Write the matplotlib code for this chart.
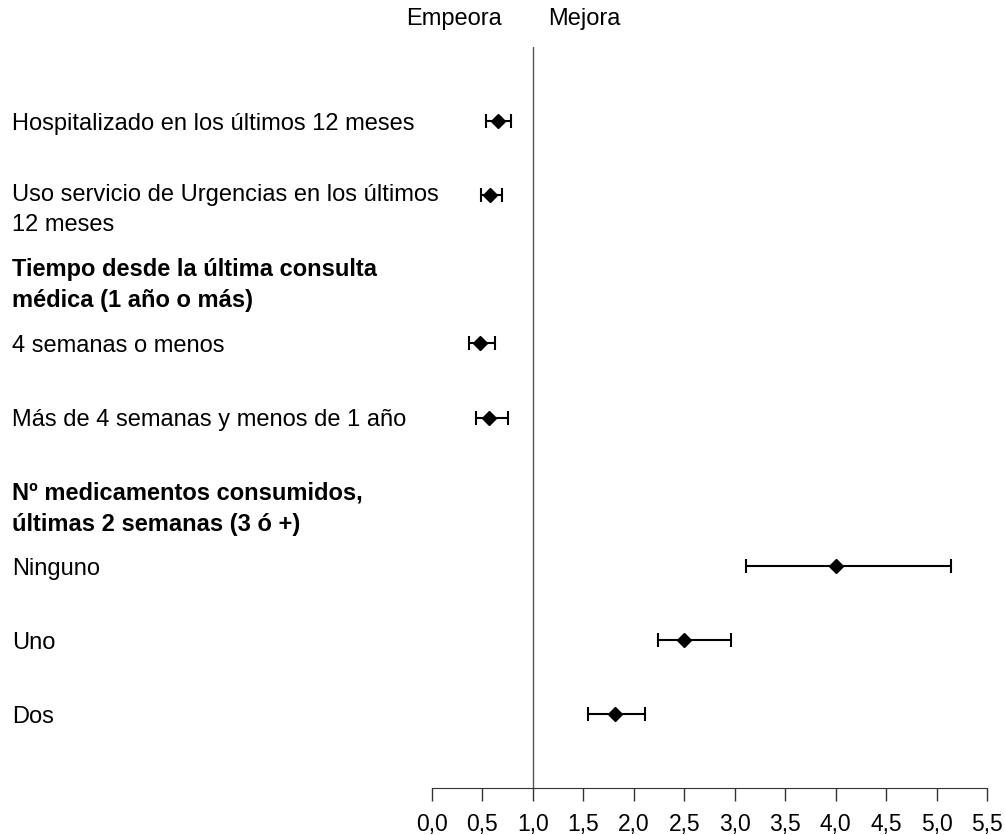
import matplotlib
matplotlib.use("Agg")
import matplotlib.pyplot as plt
from matplotlib.transforms import blended_transform_factory

plt.rcParams['font.family'] = ['Liberation Sans', 'DejaVu Sans']

# Odds ratios with 95% confidence intervals
labels = [
    "Hospitalizado en los últimos 12 meses",
    "Uso servicio de Urgencias en los últimos\n12 meses",
    "Tiempo desde la última consulta\nmédica (1 año o más)",
    "4 semanas o menos",
    "Más de 4 semanas y menos de 1 año",
    "Nº medicamentos consumidos,\núltimas 2 semanas (3 ó +)",
    "Ninguno",
    "Uno",
    "Dos",
]
is_header = [False, False, True, False, False, True, False, False, False]
odds = [0.65, 0.575, None, 0.48, 0.565, None, 4.00, 2.50, 1.81]
ci_low = [0.535, 0.49, None, 0.37, 0.44, None, 3.11, 2.24, 1.55]
ci_high = [0.78, 0.69, None, 0.62, 0.75, None, 5.14, 2.96, 2.11]
x_ticks = [0.0, 0.5, 1.0, 1.5, 2.0, 2.5, 3.0, 3.5, 4.0, 4.5, 5.0, 5.5]

FS = 17
FS_TICK = 16.5

fig = plt.figure(figsize=(10.05, 8.35), dpi=100)
ax = fig.add_axes([432 / 1005, 1 - 788 / 835, 555 / 1005, 741 / 835])

for i, (o, lo, hi) in enumerate(zip(odds, ci_low, ci_high)):
    if o is None:
        continue
    ax.errorbar([o], [i], xerr=[[o - lo], [hi - o]], fmt='D', color='black',
                markersize=7, elinewidth=1.5, capsize=5, capthick=1.5)

ax.axvline(1.0, color='#555555', linewidth=1.0)
ax.set_xlim(0, 5.5)
ax.set_ylim(9, -1)
ax.set_xticks(x_ticks)
ax.set_xticklabels([f"{t:.1f}".replace('.', ',') for t in x_ticks], fontsize=FS_TICK)
ax.tick_params(axis='x', length=9, width=1.0, color='#333333', pad=9)
ax.set_yticks([])
for side in ['top', 'right', 'left']:
    ax.spines[side].set_visible(False)
ax.spines['bottom'].set_color('#333333')

# Row labels on the left margin; group headers sit between rows
trans = blended_transform_factory(fig.transFigure, ax.transData)
label_y = [0.04, 1.2, 2.21, 3.04, 4.04, 5.23, 6.04, 7.04, 8.04]
for text, y, bold in zip(labels, label_y, is_header):
    ax.text(12 / 1005, y, text, transform=trans, ha='left', va='center',
            fontsize=FS, fontweight='bold' if bold else 'normal',
            linespacing=1.45)

fig.text(502 / 1005, 1 - 19 / 835, "Empeora", ha='right', va='center', fontsize=FS)
fig.text(548 / 1005, 1 - 19 / 835, "Mejora", ha='left', va='center', fontsize=FS)

fig.savefig("out.png", dpi=100)
